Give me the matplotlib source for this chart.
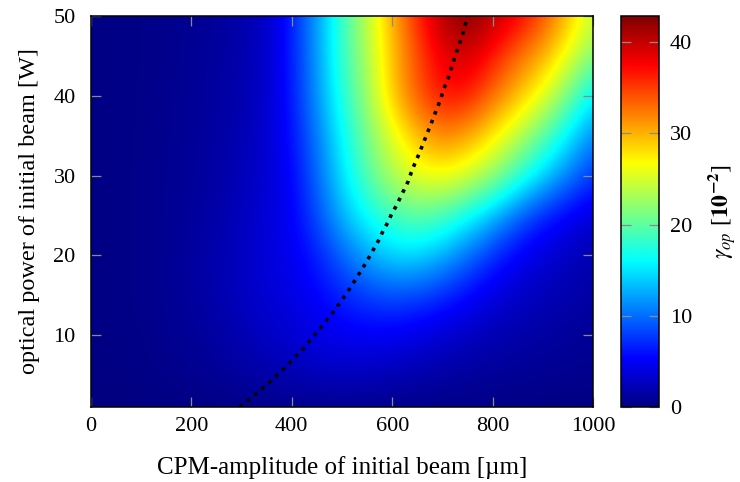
import numpy as np
import matplotlib
matplotlib.use("Agg")
import matplotlib.pyplot as plt
from matplotlib.colors import LinearSegmentedColormap

# ---------------- data ----------------
amplitude = [0, 50, 100, 150, 200, 250, 300, 350, 400, 450, 500,
             550, 600, 650, 700, 750, 800, 850, 900, 950, 1000]   # µm
power = [0, 5, 10, 15, 20, 25, 30, 35, 40, 45, 50]                # W

gamma_P00 = [0.0, 0.0, 0.05, 0.05, 0.1, 0.1, 0.15, 0.2, 0.2, 0.2, 0.2,
             0.2, 0.15, 0.15, 0.1, 0.1, 0.1, 0.1, 0.05, 0.05, 0.05]
gamma_P05 = [0.2, 0.2, 0.3, 0.5, 0.7, 1.0, 1.4, 1.8, 2.2, 2.5, 2.6,
             2.5, 2.2, 1.9, 1.6, 1.3, 1.1, 0.9, 0.8, 0.7, 0.6]
gamma_P10 = [0.25, 0.25, 0.4, 0.7, 1.0, 1.5, 2.2, 3.0, 3.6, 4.4, 4.8,
             5.0, 4.8, 4.2, 3.4, 2.8, 2.2, 1.8, 1.5, 1.2, 1.0]
gamma_P15 = [0.3, 0.3, 0.5, 0.85, 1.3, 2.0, 2.8, 3.6, 4.2, 5.3, 6.7,
             7.8, 8.5, 8.1, 7.0, 5.5, 4.1, 3.1, 2.5, 2.0, 1.5]
gamma_P20 = [0.3, 0.3, 0.5, 0.85, 1.3, 2.0, 2.8, 3.9, 4.7, 6.5, 9.5,
             12.5, 14.5, 14.6, 12.8, 10.0, 7.2, 5.0, 3.8, 2.8, 2.0]
gamma_P25 = [0.3, 0.3, 0.5, 0.8, 1.2, 1.8, 2.6, 3.7, 5.0, 8.5, 13.0,
             16.5, 18.7, 20.0, 19.0, 16.5, 13.2, 9.5, 6.7, 5.0, 3.6]
gamma_P30 = [0.3, 0.3, 0.5, 0.75, 1.1, 1.6, 2.4, 3.5, 5.3, 9.5, 15.0,
             19.5, 23.5, 25.8, 26.5, 25.0, 22.5, 18.5, 14.5, 10.8, 7.5]
gamma_P35 = [0.3, 0.3, 0.45, 0.7, 1.0, 1.5, 2.2, 3.4, 5.8, 10.5, 16.0,
             21.0, 25.5, 29.5, 32.0, 30.5, 27.5, 24.0, 20.0, 15.5, 11.0]
gamma_P40 = [0.3, 0.3, 0.45, 0.65, 1.0, 1.4, 2.0, 3.2, 6.2, 11.5, 17.5,
             22.5, 29.0, 34.0, 37.0, 36.5, 33.0, 29.5, 26.0, 21.0, 15.5]
gamma_P45 = [0.3, 0.3, 0.4, 0.6, 0.9, 1.3, 1.9, 3.1, 6.4, 11.8, 18.3,
             23.2, 29.2, 34.3, 38.3, 39.5, 36.5, 33.0, 30.0, 26.0, 21.5]
gamma_P50 = [0.3, 0.3, 0.4, 0.6, 0.8, 1.2, 1.8, 3.0, 6.5, 12.0, 18.5,
             24.0, 30.0, 36.0, 40.8, 42.8, 40.5, 38.0, 34.5, 29.5, 24.5]

# optimum curve (dotted line)
opt_power = [1, 1.7, 2.4, 3.1, 3.9, 4.7, 5.5, 6.25, 7.1, 7.9, 8.75, 9.7,
             10.5, 11.5, 12.3, 13.25, 14.2, 15.1, 16.1, 17.1, 18.0, 19.0,
             20.0, 21.0, 22.0, 23.1, 24.1, 25.2, 26.2, 29.3, 30.4, 31.5,
             32.5, 33.6, 34.7, 35.8, 36.9, 37.9, 39.0, 40.1, 41.2, 42.3,
             43.3, 44.5, 45.6, 46.7, 47.8, 49.0, 50.0]
opt_amplitude = [296, 310, 324, 338, 352, 366, 379, 392, 404, 417, 429, 441,
                 453, 464, 475, 487, 497, 508, 518, 528, 537, 547,
                 556, 565, 574, 582, 591, 599, 608, 632, 638, 645,
                 652, 659, 666, 673, 680, 686, 693, 699, 705, 712,
                 717, 723, 729, 735, 741, 746, 751]

cbar_ticks = [0, 10, 20, 30, 40]
x_ticks = [0, 200, 400, 600, 800, 1000]
y_ticks = [10, 20, 30, 40, 50]
vmin, vmax = 0, 42.85

# ---------------- style ----------------
plt.rcParams['font.family'] = ['Liberation Serif', 'DejaVu Serif']
plt.rcParams['mathtext.fontset'] = 'stix'
FS_TICK = 16

jet_pgf = LinearSegmentedColormap.from_list(
    'pgfjet',
    [(0.0, (0, 0, 128/255)), (1/8, (0, 0, 1)), (3/8, (0, 1, 1)),
     (5/8, (1, 1, 0)), (7/8, (1, 0, 0)), (1.0, (128/255, 0, 0))], N=512)

fig = plt.figure(figsize=(7.4, 4.82), dpi=100)
ax = fig.add_axes([91/740, 1 - 407/482, (593 - 91)/740, (407 - 16)/482])
cax = fig.add_axes([621/740, 1 - 407/482, (659 - 621)/740, (407 - 16)/482])

Z = np.array([gamma_P00, gamma_P05, gamma_P10, gamma_P15, gamma_P20, gamma_P25,
              gamma_P30, gamma_P35, gamma_P40, gamma_P45, gamma_P50])
dx = amplitude[1] - amplitude[0]
dy = power[1] - power[0]
img = ax.imshow(Z, origin='lower', cmap=jet_pgf, vmin=vmin, vmax=vmax,
                interpolation='bicubic', aspect='auto',
                extent=[amplitude[0] - dx/2, amplitude[-1] + dx/2,
                        power[0] - dy/2, power[-1] + dy/2])

ax.plot(opt_amplitude, opt_power, color='black', lw=2.6,
        linestyle=(0, (1, 1.6)), dash_capstyle='butt')

ax.set_xlim(0, 1000)
ax.set_ylim(1, 50)
ax.set_xticks(x_ticks)
ax.set_yticks(y_ticks)
ax.tick_params(axis='both', direction='in', length=7.5, width=0.9,
               color='#8a8a8a', labelsize=FS_TICK, top=True, right=True)
ax.tick_params(axis='x', pad=7)
ax.tick_params(axis='y', pad=11)
for s in ax.spines.values():
    s.set_linewidth(1.1)
    s.set_color('black')
ax.set_xlabel('CPM-amplitude of initial beam [µm]', fontsize=18)
ax.set_ylabel('optical power of initial beam [W]', fontsize=17.5)
ax.xaxis.set_label_coords(0.5, -(468 - 407) / (407 - 16), transform=ax.transAxes)
ax.yaxis.set_label_coords(-(91 - 30) / (593 - 91), 0.5, transform=ax.transAxes)
ax.xaxis.label.set_va('center')
ax.yaxis.label.set_va('center')

cb = fig.colorbar(img, cax=cax, ticks=cbar_ticks)
cb.outline.set_linewidth(1.1)
cax.tick_params(direction='in', length=7.5, width=0.9, color='#8a8a8a',
                labelsize=FS_TICK, left=True, right=True, pad=8)
cax.set_ylim(vmin, vmax)
cb.set_label(r'$\gamma_{op}$ [$\mathbf{10^{-2}}$]', fontsize=17)
cax.yaxis.set_label_coords((722 - 621) / (659 - 621), 0.5, transform=cax.transAxes)
cax.yaxis.label.set_va('center')

fig.savefig('out.png', dpi=100)
